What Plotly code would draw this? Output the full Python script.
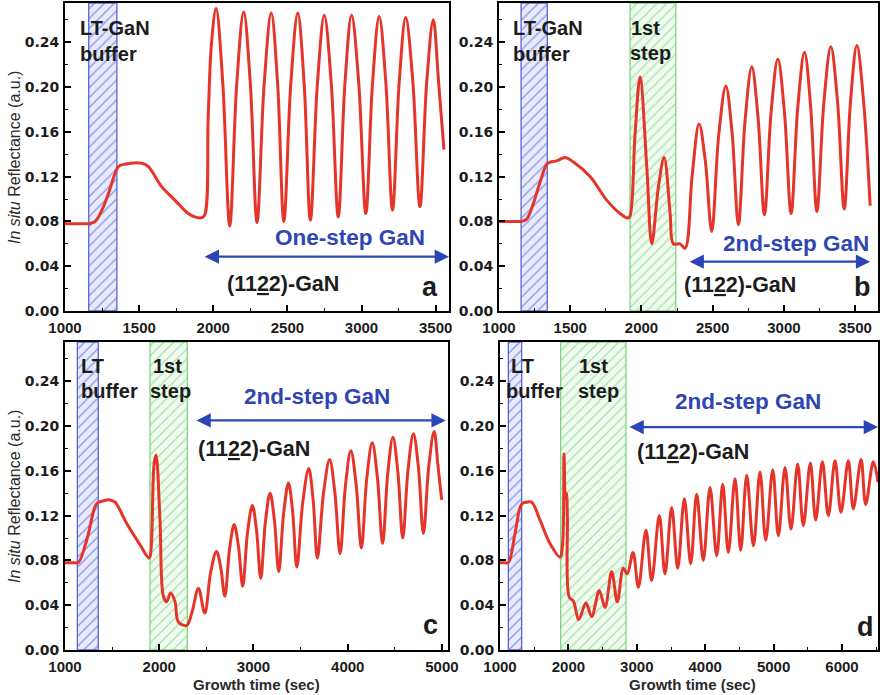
import plotly.graph_objects as go

W, H = 883, 695

# ---------------- data ----------------
# (a) one-step growth
time_a = [1000, 1100, 1163, 1204, 1249, 1293, 1338, 1360, 1400, 1517, 1562, 1652, 1741, 1831, 1876, 1915, 1940, 1966, 1988,
          2019, 2064, 2111, 2158, 2205, 2250, 2295, 2343, 2391, 2434, 2476, 2523, 2570, 2613, 2655, 2702, 2749, 2796,
          2843, 2888, 2933, 2981, 3029, 3074, 3119, 3164, 3209, 3254, 3298, 3346, 3394, 3439, 3484, 3520, 3556]
refl_a = [0.078, 0.078, 0.078, 0.080, 0.090, 0.105, 0.123, 0.129, 0.131, 0.132, 0.129, 0.111, 0.099, 0.087, 0.084, 0.083, 0.085, 0.174, 0.239,
          0.270, 0.204, 0.076, 0.202, 0.267, 0.203, 0.079, 0.202, 0.266, 0.203, 0.080, 0.203, 0.266, 0.203, 0.081, 0.202, 0.264, 0.203,
          0.084, 0.203, 0.264, 0.204, 0.087, 0.203, 0.263, 0.204, 0.090, 0.204, 0.262, 0.205, 0.093, 0.203, 0.260, 0.204, 0.144]
lt_buffer_a = [1160, 1350]
main_stage_a = [1932, 3590]

# (b) two-step growth, short first step
time_b = [1000, 1100, 1159, 1194, 1241, 1288, 1335, 1360, 1405, 1463, 1522, 1639, 1756, 1850, 1905, 1920, 1955, 1990, 2037, 2072,
          2119, 2159, 2201, 2224, 2270, 2306,
          2355, 2404, 2448, 2493, 2542, 2592, 2636, 2680, 2727, 2774, 2818, 2863, 2910, 2957, 3003, 3050, 3097, 3144,
          3187, 3231, 3280, 3329, 3376, 3423, 3467, 3512, 3558, 3605]
refl_b = [0.080, 0.080, 0.080, 0.082, 0.096, 0.115, 0.131, 0.133, 0.134, 0.137, 0.133, 0.120, 0.099, 0.087, 0.083, 0.085, 0.158, 0.209, 0.129, 0.060,
          0.111, 0.137, 0.087, 0.060, 0.060, 0.056,
          0.120, 0.167, 0.134, 0.071, 0.157, 0.201, 0.159, 0.077, 0.170, 0.218, 0.173, 0.086, 0.178, 0.225, 0.178, 0.087, 0.182, 0.231,
          0.183, 0.089, 0.186, 0.236, 0.187, 0.091, 0.187, 0.237, 0.188, 0.094]
lt_buffer_b = [1155, 1339]
first_step_b = [1920, 2241]
main_stage_b = [2327, 3605]

# (c) two-step growth, medium first step
time_c = [1000, 1100, 1141, 1230, 1310, 1340, 1400, 1478, 1531, 1655, 1796, 1890, 1905, 1945, 1966, 2008, 2044, 2079, 2121, 2168,
          2203, 2292,
          2345, 2416, 2483, 2545, 2607, 2652, 2696, 2746, 2795, 2840, 2886, 2937, 2988, 3032, 3077, 3126, 3176, 3222, 3268,
          3320, 3371, 3415, 3460, 3523, 3586, 3632, 3678, 3743, 3808, 3863, 3919, 3976, 4033, 4089, 4145, 4202, 4260, 4315,
          4370, 4425, 4480, 4532, 4584, 4640, 4697, 4750, 4803, 4860, 4917, 4957, 4997]
refl_c = [0.078, 0.078, 0.078, 0.098, 0.126, 0.131, 0.133, 0.134, 0.132, 0.113, 0.094, 0.082, 0.084, 0.166, 0.174, 0.116, 0.048, 0.043, 0.051, 0.043,
          0.025, 0.022,
          0.033, 0.055, 0.033, 0.069, 0.088, 0.074, 0.048, 0.090, 0.112, 0.093, 0.057, 0.105, 0.129, 0.107, 0.064, 0.114, 0.140, 0.116, 0.070,
          0.122, 0.149, 0.124, 0.074, 0.132, 0.162, 0.135, 0.082, 0.140, 0.170, 0.141, 0.086, 0.147, 0.178, 0.148, 0.091, 0.153, 0.185, 0.154,
          0.095, 0.158, 0.190, 0.159, 0.100, 0.161, 0.193, 0.163, 0.104, 0.164, 0.195, 0.165, 0.134]
lt_buffer_c = [1131, 1353]
first_step_c = [1902, 2298]
main_stage_c = [2379, 5040]

# (d) two-step growth, long first step
time_d = [1000, 1060, 1120, 1219, 1292, 1330, 1390, 1463, 1585, 1731, 1877, 1915, 1936, 1955, 1970, 1985, 2014, 2072,
          2150, 2257, 2340, 2452, 2535, 2633, 2715, 2803, 2860, 2945, 3023, 3134, 3217, 3329, 3412, 3510, 3598,
          3695, 3788, 3875, 3972, 4070, 4168, 4256, 4338, 4436, 4519, 4607, 4705, 4801, 4885, 4987, 5069, 5167,
          5254, 5352, 5434, 5537, 5615, 5713, 5800, 5898, 5985, 6092, 6165, 6278, 6346, 6458, 6526]
refl_d = [0.078, 0.078, 0.078, 0.104, 0.127, 0.131, 0.132, 0.132, 0.116, 0.095, 0.083, 0.095, 0.175, 0.136, 0.140, 0.120, 0.047, 0.044,
          0.027, 0.042, 0.030, 0.053, 0.038, 0.070, 0.043, 0.073, 0.068, 0.087, 0.056, 0.107, 0.062, 0.120, 0.068, 0.127, 0.073,
          0.135, 0.077, 0.139, 0.080, 0.145, 0.084, 0.148, 0.087, 0.153, 0.089, 0.156, 0.093, 0.159, 0.098, 0.161, 0.102, 0.163,
          0.108, 0.166, 0.111, 0.167, 0.116, 0.168, 0.120, 0.169, 0.123, 0.169, 0.126, 0.170, 0.130, 0.168, 0.150]
lt_buffer_d = [1122, 1317]
first_step_d = [1887, 2842]
main_stage_d = [2871, 6526]

y_ticks = [0.00, 0.04, 0.08, 0.12, 0.16, 0.20, 0.24]
Y_MAX = 0.275

# ---------------- styling ----------------
RED = "#e5352a"
BLUE_TXT = "#2f45b2"
BLUE_BOX = "#5566d8"
GREEN_BOX = "#7fd47f"
INK = "#1c1c1c"
SANS = "Liberation Sans"

panels = [
    dict(t=time_a, r=refl_a, xr=[1000, 3590], box=(65, 3, 449, 311), dt=500, mt=250,
         lt=lt_buffer_a, fs=None),
    dict(t=time_b, r=refl_b, xr=[1000, 3660], box=(499, 3, 878, 311), dt=500, mt=250,
         lt=lt_buffer_b, fs=first_step_b),
    dict(t=time_c, r=refl_c, xr=[1000, 5064], box=(65, 342, 448, 650), dt=1000, mt=500,
         lt=lt_buffer_c, fs=first_step_c),
    dict(t=time_d, r=refl_d, xr=[1000, 6526], box=(500, 342, 878, 650), dt=1000, mt=500,
         lt=lt_buffer_d, fs=first_step_d),
]

fig = go.Figure()
layout = dict(
    template="none",
    width=W, height=H, margin=dict(l=0, r=0, t=0, b=0, autoexpand=False),
    paper_bgcolor="white", plot_bgcolor="white", showlegend=False,
)


def band(x0x1, xa, ya, line_col, fg, bg):
    x0, x1 = x0x1
    return go.Scatter(
        x=[x0, x1, x1, x0, x0], y=[0, 0, Y_MAX, Y_MAX, 0],
        xaxis=xa, yaxis=ya, mode="lines", fill="toself",
        line=dict(color=line_col, width=1.3),
        fillcolor=bg,
        fillpattern=dict(shape="/", fgcolor=fg, bgcolor=bg, size=7, solidity=0.18),
        hoverinfo="skip",
    )


for i, p in enumerate(panels, start=1):
    sfx = "" if i == 1 else str(i)
    xa, ya = "x" + sfx, "y" + sfx
    l, t, r, b = p["box"]
    layout["xaxis" + sfx] = dict(
        domain=[l / W, r / W], range=p["xr"], anchor=ya, automargin=False,
        showline=True, linecolor="black", linewidth=2, mirror=True,
        ticks="inside", ticklen=6, tickwidth=1.5, tickcolor="black",
        dtick=p["dt"], tick0=1000, showgrid=False, zeroline=False,
        minor=dict(dtick=p["mt"], ticks="inside", ticklen=3, tickwidth=1.2, tickcolor="black", showgrid=False),
        tickfont=dict(family=SANS, size=15, color=INK, weight="bold"),
        ticklabelstandoff=2,
    )
    layout["yaxis" + sfx] = dict(
        domain=[1 - b / H, 1 - t / H], range=[0, Y_MAX], anchor=xa, automargin=False,
        showline=True, linecolor="black", linewidth=2, mirror=True,
        ticks="inside", ticklen=6, tickwidth=1.5, tickcolor="black",
        tickvals=y_ticks, tickformat=".2f", showgrid=False, zeroline=False,
        minor=dict(dtick=0.02, ticks="inside", ticklen=3, tickwidth=1.2, tickcolor="black", showgrid=False),
        tickfont=dict(family="DejaVu Sans", size=14, color=INK, weight="bold"),
        ticklabelstandoff=1,
    )
    fig.add_trace(band(p["lt"], xa, ya, BLUE_BOX, "rgba(70,90,215,0.6)", "rgba(205,212,248,0.45)"))
    if p["fs"]:
        fig.add_trace(band(p["fs"], xa, ya, GREEN_BOX, "rgba(90,200,90,0.5)", "rgba(220,247,220,0.4)"))
    fig.add_trace(go.Scatter(
        x=p["t"], y=p["r"], xaxis=xa, yaxis=ya, mode="lines",
        line=dict(color=RED, width=3, shape="spline", smoothing=1.0),
        hoverinfo="skip",
    ))

fig.update_layout(**layout)

# ---------------- annotations ----------------
annots = []


def txt(text, x, baseline, size, color=INK, xanchor="left", family=SANS):
    annots.append(dict(
        text=text, xref="paper", yref="paper", x=x / W, y=1 - (baseline - 0.36 * size) / H,
        xanchor=xanchor, yanchor="middle", showarrow=False,
        font=dict(family=family, size=size, color=color, weight="bold"),
    ))


def stage_arrow(span, y, sfx):
    x0, x1 = span
    annots.append(dict(
        x=x1, y=y, ax=x0, ay=y, xref="x" + sfx, yref="y" + sfx, axref="x" + sfx, ayref="y" + sfx,
        text="", showarrow=True, arrowhead=2, arrowside="end+start", arrowsize=1.3, arrowwidth=2.2,
        arrowcolor="#2a45b5", standoff=0, startstandoff=0,
    ))


GAN = "(11<u>2</u>2)-GaN"
LBL, STG, HKL, LET = 20, 22.5, 21.5, 27

# (a)
txt("LT-GaN", 78, 35, LBL)
txt("buffer", 78, 61, LBL)
txt("One-step GaN", 350, 246, STG, BLUE_TXT, "center")
txt(GAN, 283, 292, HKL, INK, "center")
txt("a", 430, 297, LET, INK, "center")
stage_arrow(main_stage_a, 0.0485, "")

# (b)
txt("LT-GaN", 511, 35, LBL)
txt("buffer", 511, 61, LBL)
txt("1st", 629, 35, LBL)
txt("step", 628, 60, LBL)
txt("2nd-step GaN", 796, 252, STG, BLUE_TXT, "center")
txt(GAN, 740, 293, HKL, INK, "center")
txt("b", 862, 297, LET, INK, "center")
stage_arrow(main_stage_b, 0.044, "2")

# (c)
txt("LT", 79, 373, LBL)
txt("buffer", 79, 398, LBL)
txt("1st", 151, 373, LBL)
txt("step", 148, 398, LBL)
txt("2nd-step GaN", 317, 405, STG, BLUE_TXT, "center")
txt(GAN, 254, 457, HKL, INK, "center")
txt("c", 430, 635, LET, INK, "center")
stage_arrow(main_stage_c, 0.205, "3")

# (d)
txt("LT", 509, 373, LBL)
txt("buffer", 504, 398, LBL)
txt("1st", 577, 373, LBL)
txt("step", 576, 398, LBL)
txt("2nd-step GaN", 748, 410, STG, BLUE_TXT, "center")
txt(GAN, 693, 460, HKL, INK, "center")
txt("d", 865, 637, LET, INK, "center")
stage_arrow(main_stage_d, 0.199, "4")

# axis titles
for cy in (158, 497):
    annots.append(dict(
        text="<i>In situ</i> Reflectance (a.u.)", xref="paper", yref="paper",
        x=14 / W, y=1 - cy / H, xanchor="center", yanchor="middle", textangle=-90, showarrow=False,
        font=dict(family=SANS, size=16, color="#2a2a2a"),
    ))
for cx in (256, 692):
    annots.append(dict(
        text="Growth time (sec)", xref="paper", yref="paper",
        x=cx / W, y=1 - 684 / H, xanchor="center", yanchor="middle", showarrow=False,
        font=dict(family=SANS, size=15, color="#2a2a2a", weight="bold"),
    ))

fig.update_layout(annotations=annots)
fig.write_html("out.html")
